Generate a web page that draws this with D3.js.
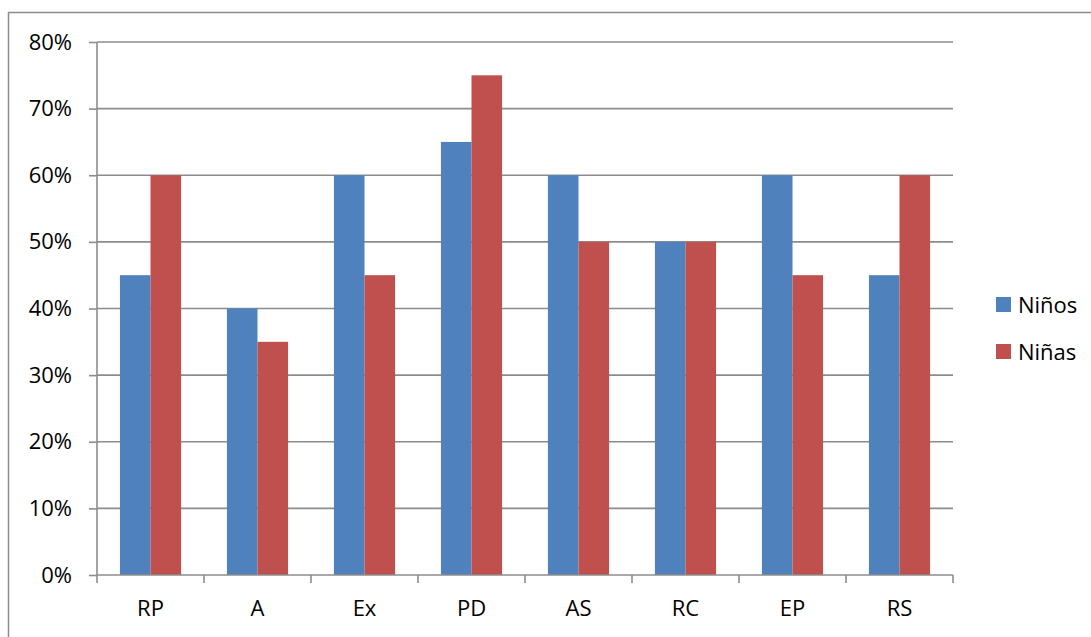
<!DOCTYPE html>
<html>
<head>
<meta charset="utf-8">
<script src="https://cdn.jsdelivr.net/npm/d3@7"></script>
<style>
  html, body { margin: 0; padding: 0; background: #fff; }
  svg { display: block; }
  text { font-family: "Open Sans", "Liberation Sans", sans-serif; fill: #000; }
</style>
</head>
<body>
<svg id="chart" width="1091" height="637"></svg>
<script>
// Categories and percentages per group
const categories = ["RP", "A", "Ex", "PD", "AS", "RC", "EP", "RS"];
const ninos = [45, 40, 60, 65, 60, 50, 60, 45];
const ninas = [60, 35, 45, 75, 50, 50, 45, 60];
const seriesNames = ["Niños", "Niñas"];
const seriesColors = ["#4F81BD", "#C0504D"];
const yTicks = [0, 10, 20, 30, 40, 50, 60, 70, 80];

const svg = d3.select("#chart");

// outer chart frame (only top and left edges fall inside the view)
svg.append("rect")
  .attr("x", 8.5).attr("y", 12.5)
  .attr("width", 1200).attr("height", 700)
  .attr("fill", "none").attr("stroke", "#8c8c8c").attr("stroke-width", 1.5);

const plot = { left: 97, right: 953, top: 42, bottom: 575 };

const x = d3.scaleBand().domain(categories).range([plot.left, plot.right]);
const y = d3.scaleLinear().domain([0, 80]).range([plot.bottom, plot.top]);
const barW = x.bandwidth() / 3.5; // gap width 150%
const x1 = d3.scaleBand().domain(seriesNames).range([0, barW * 2]);

// horizontal gridlines
svg.append("g").selectAll("line").data(yTicks.filter(d => d > 0)).join("line")
  .attr("x1", plot.left).attr("x2", plot.right)
  .attr("y1", d => y(d)).attr("y2", d => y(d))
  .attr("stroke", "#8c8c8c").attr("stroke-width", 1.6);

// bars
const series = [ninos, ninas];
const groups = svg.append("g").selectAll("g").data(categories).join("g")
  .attr("transform", c => `translate(${x(c) + (x.bandwidth() - barW * 2) / 2},0)`);
groups.selectAll("rect")
  .data((c, i) => seriesNames.map((s, k) => ({ s, v: series[k][i], k })))
  .join("rect")
  .attr("x", d => x1(d.s))
  .attr("width", barW)
  .attr("y", d => y(d.v))
  .attr("height", d => y(0) - y(d.v))
  .attr("fill", d => seriesColors[d.k]);

// y axis
const yAxis = d3.axisLeft(y).tickValues(yTicks).tickFormat(d => d + "%").tickSize(8).tickPadding(17);
const gy = svg.append("g").attr("transform", `translate(${plot.left},0)`).call(yAxis);
gy.select(".domain").attr("stroke", "#8c8c8c").attr("stroke-width", 1.6).attr("d", `M0,${plot.top}V${plot.bottom}`);
gy.selectAll(".tick line").attr("stroke", "#8c8c8c").attr("stroke-width", 1.6);
gy.selectAll(".tick text").attr("font-size", 22).attr("font-family", "Open Sans").attr("fill", "#000");

// x axis
const xAxis = d3.axisBottom(x).tickSize(0).tickPadding(25);
const gx = svg.append("g").attr("transform", `translate(0,${plot.bottom})`).call(xAxis);
gx.select(".domain").attr("stroke", "#8c8c8c").attr("stroke-width", 1.6).attr("d", `M${plot.left},0H${plot.right}`);
gx.selectAll(".tick text").attr("font-size", 22).attr("font-family", "Open Sans").attr("fill", "#000");
// category boundary tick marks
const bounds = categories.map(c => x(c)).concat([plot.right]);
svg.append("g").selectAll("line").data(bounds).join("line")
  .attr("x1", d => d).attr("x2", d => d)
  .attr("y1", plot.bottom).attr("y2", plot.bottom + 8)
  .attr("stroke", "#8c8c8c").attr("stroke-width", 1.6);

// legend
const legend = svg.append("g").selectAll("g").data(seriesNames).join("g")
  .attr("transform", (d, i) => `translate(996,${297 + i * 47})`);
legend.append("rect").attr("width", 15).attr("height", 15).attr("fill", (d, i) => seriesColors[i]);
legend.append("text").attr("x", 22).attr("y", 8).attr("dy", "0.35em")
  .attr("font-size", 22).text(d => d);
</script>
</body>
</html>
